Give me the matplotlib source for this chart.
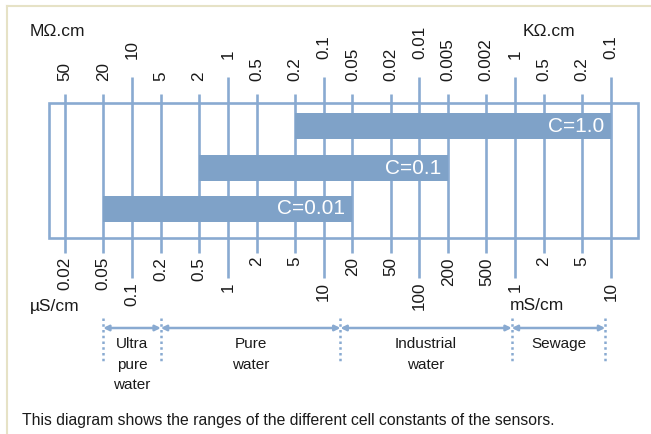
import matplotlib
matplotlib.use("Agg")
import matplotlib.pyplot as plt
from matplotlib.patches import Rectangle
from matplotlib.transforms import blended_transform_factory
import numpy as np

plt.rcParams['font.family'] = ['Liberation Sans', 'DejaVu Sans']

# ---- data ----
cond_ticks = [0.02, 0.05, 0.1, 0.2, 0.5, 1, 2, 5, 10, 20, 50, 100, 200, 500,
              1000, 2000, 5000, 10000]  # µS/cm
bottom_labels = ['0.02', '0.05', '0.1', '0.2', '0.5', '1', '2', '5', '10', '20',
                 '50', '100', '200', '500', '1', '2', '5', '10']
top_labels = ['50', '20', '10', '5', '2', '1', '0.5', '0.2', '0.1', '0.05',
              '0.02', '0.01', '0.005', '0.002', '1', '0.5', '0.2', '0.1']
major_ticks = [0.1, 1, 10, 100, 1000, 10000]

cell_constants = ['C=1.0', 'C=0.1', 'C=0.01']
range_low = [5, 0.5, 0.05]
range_high = [10000, 200, 20]

regions = ['Ultra\npure\nwater', 'Pure\nwater', 'Industrial\nwater', 'Sewage']
region_bounds = [0.05, 0.2, 15, 920, 8700]

caption = "This diagram shows the ranges of the different cell constants of the sensors."

# ---- style ----
LINE = '#89aad1'
BAR = '#7fa2c8'
TXT = '#1a1a1a'
W, H = 651, 434

fig = plt.figure(figsize=(W / 100, H / 100), dpi=100)
ax = fig.add_axes([0, 0, 1, 1])
ax.set_xscale('log')
px_per_dec = 95.8
x0 = 227.8  # pixel of 1 µS/cm
ax.set_xlim(10 ** (-x0 / px_per_dec), 10 ** ((W - x0) / px_per_dec))
ax.set_ylim(H, 0)
ax.axis('off')

bt = blended_transform_factory(ax.transAxes, ax.transData)

# page border (top + left)
ax.plot([7 / W, 1], [6, 6], transform=bt, color='#e6e2c6', lw=1.5)
ax.plot([7 / W, 7 / W], [6, H], transform=bt, color='#e6e2c6', lw=1.5)

# frame
ax.add_patch(Rectangle((49 / W, 103), (638 - 49) / W, 135, transform=bt,
                       fill=False, edgecolor=LINE, lw=1.9, zorder=2))

# vertical lines and labels
for v, bl, tl in zip(cond_ticks, bottom_labels, top_labels):
    is_major = v in major_ticks
    ytop = 77 if is_major else 94
    ybot = 278 if is_major else 253
    ax.vlines(v, ytop, ybot, color=LINE, lw=1.9, zorder=1)
    ax.text(v, 59 if is_major else 81, tl, rotation=90, ha='center', va='bottom',
            fontsize=12.3, color=TXT)
    ax.text(v, 282 if is_major else 257, bl, rotation=90, ha='center', va='top',
            fontsize=12.3, color=TXT)

# bars
ycent = [126, 168, 209]
for name, lo, hi, yc in zip(cell_constants, range_low, range_high, ycent):
    ax.barh(yc, hi - lo, left=lo, height=26, color=BAR, zorder=3)
    ax.annotate(name, (hi, yc), xytext=(-5, 0), textcoords='offset points',
                ha='right', va='center', color='white', fontsize=15, zorder=4)

# unit labels
fig.text(30 / W, 1 - 32 / H, 'MΩ.cm', fontsize=12.5, color=TXT, va='center', ha='left')
fig.text(523 / W, 1 - 32 / H, 'KΩ.cm', fontsize=12.5, color=TXT, va='center', ha='left')
fig.text(30 / W, 1 - 306 / H, 'µS/cm', fontsize=12.5, color=TXT, va='center', ha='left')
fig.text(510 / W, 1 - 306 / H, 'mS/cm', fontsize=12.5, color=TXT, va='center', ha='left')

# regions
for b in region_bounds:
    ax.vlines(b, 318, 362, color=LINE, lw=1.8, linestyles=(0, (1, 1.3)), zorder=1)
for name, a, b in zip(regions, region_bounds[:-1], region_bounds[1:]):
    ax.annotate('', xy=(a, 328), xytext=(b, 328),
                arrowprops=dict(arrowstyle='<|-|>', color=LINE, lw=1.8,
                                mutation_scale=8, shrinkA=0, shrinkB=0))
    ax.text(np.sqrt(a * b), 337, name, ha='center', va='top', fontsize=11,
            color=TXT, linespacing=1.6)

fig.text(22 / W, 1 - 420 / H, caption, fontsize=11.3, color=TXT, va='center', ha='left')

fig.savefig('out.png', dpi=100)
